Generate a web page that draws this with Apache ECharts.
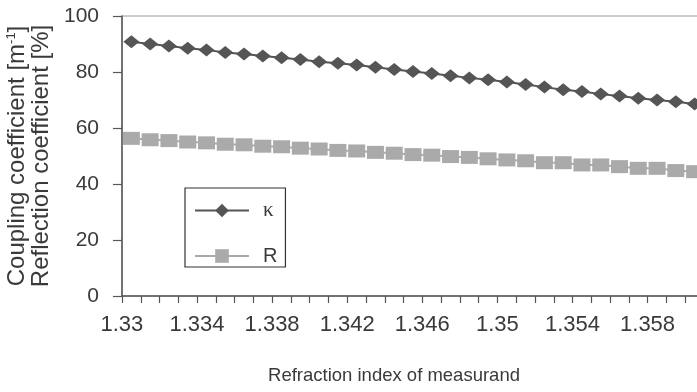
<!DOCTYPE html>
<html>
<head>
<meta charset="utf-8">
<script src="https://cdn.jsdelivr.net/npm/echarts@6/dist/echarts.min.js"></script>
<style>
  html, body { margin: 0; padding: 0; background: #fff; }
  #chart { width: 697px; height: 392px; }
</style>
</head>
<body>
<div id="chart"></div>
<script>
// Refraction index of the measurand (category axis)
const refractionIndex = [
  '1.33', '1.331', '1.332', '1.333', '1.334', '1.335', '1.336', '1.337', '1.338', '1.339',
  '1.34', '1.341', '1.342', '1.343', '1.344', '1.345', '1.346', '1.347', '1.348', '1.349',
  '1.35', '1.351', '1.352', '1.353', '1.354', '1.355', '1.356', '1.357', '1.358', '1.359',
  '1.36'
];

// Coupling coefficient kappa [1/m]
const kappa = [
  90.8, 90.0, 89.3, 88.5, 87.9, 87.0, 86.4, 85.7, 85.1, 84.5,
  83.7, 83.1, 82.5, 81.7, 80.9, 80.2, 79.5, 78.7, 77.9, 77.2,
  76.4, 75.5, 74.6, 73.7, 73.0, 72.1, 71.4, 70.6, 70.0, 69.4,
  68.6
];

// Reflection coefficient R [%]
const reflection = [
  56.3, 55.8, 55.5, 55.0, 54.7, 54.2, 54.0, 53.5, 53.3, 52.8,
  52.5, 52.0, 51.8, 51.3, 51.0, 50.5, 50.3, 49.8, 49.5, 49.0,
  48.6, 48.3, 47.6, 47.6, 46.8, 46.8, 46.2, 45.6, 45.6, 44.8,
  44.4
];

const yMin = 0, yMax = 100, yStep = 20;

const textColor = '#3a3a3a';
const axisColor = '#555';

const chart = echarts.init(document.getElementById('chart'), null, { renderer: 'canvas' });

chart.setOption({
  animation: false,
  backgroundColor: '#fff',
  textStyle: { fontFamily: 'Liberation Sans, Arial, sans-serif' },
  grid: {
    left: 122, top: 16, right: -7, bottom: 96,
    containLabel: false,
    outerBoundsMode: 'none',
    show: true, borderColor: '#9a9a9a', borderWidth: 1, backgroundColor: 'transparent'
  },
  legend: {
    orient: 'vertical',
    left: 185, top: 188,
    padding: [12, 8, 1, 9],
    itemGap: 25,
    itemWidth: 54, itemHeight: 17,
    borderColor: '#333', borderWidth: 1.2,
    textStyle: {
      color: textColor, fontSize: 20, lineHeight: 20, padding: [0, 0, 0, 9],
      rich: { g: { fontFamily: 'Liberation Serif, serif', fontSize: 21, color: textColor } }
    },
    formatter: name => name === 'κ' ? '{g|κ}' : name,
    data: ['κ', 'R']
  },
  xAxis: {
    type: 'category',
    data: refractionIndex,
    boundaryGap: true,
    name: 'Refraction index of measurand',
    nameLocation: 'middle',
    nameGap: 70,
    nameTextStyle: { color: textColor, fontSize: 18.5, padding: [0, 38, 0, 0] },
    axisLine: { lineStyle: { color: axisColor, width: 1.5 } },
    axisTick: { show: true, interval: 0, length: 7, lineStyle: { color: axisColor, width: 1.2 } },
    axisLabel: {
      interval: 3, color: textColor, fontSize: 22, margin: 18,
      padding: [0, 19, 0, 0]
    },
    splitLine: { show: false }
  },
  yAxis: {
    type: 'value',
    min: yMin, max: yMax, interval: yStep,
    name: 'Coupling coefficient [m{sup|-1}]\nReflection coefficient [%]',
    nameLocation: 'middle',
    nameGap: 67,
    nameTextStyle: {
      color: textColor, fontSize: 24, lineHeight: 24,
      rich: { sup: { fontSize: 13, color: textColor, verticalAlign: 'top', lineHeight: 13 } }
    },
    axisLine: { show: true, lineStyle: { color: axisColor, width: 1.5 } },
    axisTick: { show: true, length: 9, lineStyle: { color: axisColor, width: 1.2 } },
    axisLabel: { color: textColor, fontSize: 21, margin: 23 },
    splitLine: { show: false }
  },
  series: [
    {
      name: 'κ',
      type: 'line',
      data: kappa,
      showAllSymbol: true,
      symbol: 'diamond',
      symbolSize: [16, 13],
      itemStyle: { color: '#555' },
      lineStyle: { color: '#555', width: 2 }
    },
    {
      name: 'R',
      type: 'line',
      data: reflection,
      showAllSymbol: true,
      symbol: 'rect',
      symbolSize: [17, 13],
      itemStyle: { color: '#aaa' },
      lineStyle: { color: '#aaa', width: 2 }
    }
  ]
});
</script>
</body>
</html>
